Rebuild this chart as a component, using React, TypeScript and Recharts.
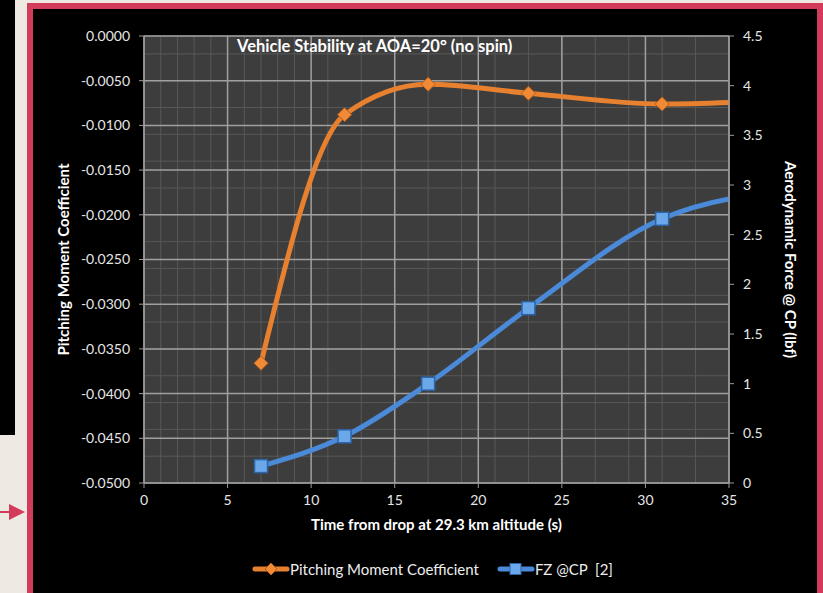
import React from 'react';
import { ComposedChart, Line, XAxis, YAxis, CartesianGrid, Legend, Label } from 'recharts';

// time after drop (s); last point lies past the visible axis, curve runs off the right edge
const times = [7, 12, 17, 23, 31, 39];
const pitchingMoment = [-0.0366, -0.0088, -0.0054, -0.0064, -0.0076, -0.0071];
const fzAtCp = [0.17, 0.47, 1.0, 1.76, 2.66, 2.95];

const xTicks = [0, 5, 10, 15, 20, 25, 30, 35];
const leftTicks = [0, -0.005, -0.01, -0.015, -0.02, -0.025, -0.03, -0.035, -0.04, -0.045, -0.05];
const rightTicks = [0, 0.5, 1, 1.5, 2, 2.5, 3, 3.5, 4, 4.5];
const xMinorTicks = Array.from({ length: 36 }, (_, i) => i);
const leftMinorTicks = Array.from({ length: 51 }, (_, i) => -i / 1000);

const data = times.map((t, i) => ({ time: t, pm: pitchingMoment[i], fz: fzAtCp[i] }));

const ORANGE = '#E8812F';
const BLUE = '#4A8AD8';
const FONT = 'Lato, "Open Sans", sans-serif';
const tickStyle = { fill: '#e6e6e6', fontSize: 14, fontFamily: FONT };
const titleStyle = { fill: '#ffffff', fontSize: 15, fontWeight: 700, fontFamily: FONT };

const Diamond = (props: any) => {
  const { cx, cy } = props;
  if (cx == null || cy == null) return null;
  const r = 7;
  return (
    <polygon
      points={`${cx},${cy - r} ${cx + r},${cy} ${cx},${cy + r} ${cx - r},${cy}`}
      fill="#F08A36"
      stroke="#B85E18"
      strokeWidth={1}
    />
  );
};

const Square = (props: any) => {
  const { cx, cy } = props;
  if (cx == null || cy == null) return null;
  const r = 6.5;
  return (
    <rect x={cx - r} y={cy - r} width={r * 2} height={r * 2} fill="#6AA8EA" stroke="#2C64A8" strokeWidth={1.5} />
  );
};

const LegendContent = () => (
  <div
    style={{
      display: 'flex',
      justifyContent: 'center',
      alignItems: 'center',
      paddingLeft: 9,
      color: '#eeeeee',
      fontSize: 15,
      fontFamily: FONT,
    }}
  >
    <svg width={38} height={14}>
      <line x1={3} y1={7} x2={35} y2={7} stroke={ORANGE} strokeWidth={5} strokeLinecap="round" />
      <polygon points="19,1 25,7 19,13 13,7" fill="#F08A36" stroke="#B85E18" />
    </svg>
    <span style={{ marginRight: 18 }}>Pitching Moment Coefficient</span>
    <svg width={38} height={14}>
      <line x1={3} y1={7} x2={35} y2={7} stroke={BLUE} strokeWidth={5} strokeLinecap="round" />
      <rect x={13} y={1.5} width={11} height={11} fill="#6AA8EA" stroke="#2C64A8" />
    </svg>
    <span>FZ @CP&nbsp;&nbsp;[2]</span>
  </div>
);

export default function App() {
  return (
    <div style={{ position: 'absolute', left: 0, top: 0, width: 823, height: 593, background: '#EEEAE3', overflow: 'hidden' }}>
      <div style={{ position: 'absolute', left: 0, top: 0, width: 15, height: 435, background: '#000' }} />
      <svg style={{ position: 'absolute', left: 0, top: 500 }} width={27} height={24}>
        <line x1={0} y1={12} x2={12} y2={12} stroke="#D23C5A" strokeWidth={2} />
        <polygon points="9,4 25,12 9,20" fill="#D23C5A" />
      </svg>
      <div
        style={{
          position: 'absolute',
          left: 27,
          top: 3,
          width: 796,
          height: 600,
          boxSizing: 'border-box',
          border: '6px solid #D23C5A',
          background: '#000',
        }}
      />
      <div style={{ position: 'absolute', left: 33, top: 9 }}>
        <ComposedChart width={790} height={584} data={data} margin={{ top: 27, right: 0, bottom: 13, left: 0 }}>
          <CartesianGrid xAxisId="minorX" yAxisId="minorY" stroke="#585858" strokeWidth={1} fill="#3d3d3d" />
          <CartesianGrid xAxisId="x" yAxisId="left" stroke="#a0a0a0" strokeWidth={1.5} />
          <XAxis
            xAxisId="minorX"
            dataKey="time"
            type="number"
            domain={[0, 35]}
            ticks={xMinorTicks}
            allowDataOverflow
            height={0}
            hide
          />
          <YAxis
            yAxisId="minorY"
            type="number"
            domain={[-0.05, 0]}
            ticks={leftMinorTicks}
            allowDataOverflow
            width={0}
            hide
          />
          <XAxis
            xAxisId="x"
            dataKey="time"
            type="number"
            domain={[0, 35]}
            ticks={xTicks}
            allowDataOverflow
            height={77}
            stroke="#9a9a9a"
            tickSize={5}
            tickMargin={7}
            tick={tickStyle}
            interval={0}
          >
            <Label value="Time from drop at 29.3 km altitude (s)" position="insideBottom" offset={30} style={titleStyle} />
          </XAxis>
          <YAxis
            yAxisId="left"
            type="number"
            domain={[-0.05, 0]}
            ticks={leftTicks}
            allowDataOverflow
            width={111}
            stroke="#9a9a9a"
            tickSize={5}
            tickMargin={9}
            tick={tickStyle}
            interval={0}
            tickFormatter={(v: number) => v.toFixed(4)}
          >
            <Label
              value="Pitching Moment Coefficient"
              angle={-90}
              position="insideLeft"
              offset={31}
              style={{ ...titleStyle, textAnchor: 'middle' }}
            />
          </YAxis>
          <YAxis
            yAxisId="right"
            orientation="right"
            type="number"
            domain={[0, 4.5]}
            ticks={rightTicks}
            allowDataOverflow
            width={94}
            stroke="#9a9a9a"
            tickSize={5}
            tickMargin={9}
            tick={tickStyle}
            interval={0}
          >
            <Label
              value="Aerodynamic Force @ CP (lbf)"
              angle={90}
              position="insideRight"
              offset={33}
              style={{ ...titleStyle, textAnchor: 'middle' }}
            />
          </YAxis>
          <Legend verticalAlign="bottom" height={20} content={<LegendContent />} />
          <Line
            xAxisId="x"
            yAxisId="left"
            dataKey="pm"
            name="Pitching Moment Coefficient"
            type="monotone"
            stroke={ORANGE}
            strokeWidth={5}
            dot={<Diamond />}
            activeDot={false}
            isAnimationActive={false}
          />
          <Line
            xAxisId="x"
            yAxisId="right"
            dataKey="fz"
            name="FZ @CP  [2]"
            type="monotone"
            stroke={BLUE}
            strokeWidth={5}
            dot={<Square />}
            activeDot={false}
            isAnimationActive={false}
          />
        </ComposedChart>
      </div>
      <div
        style={{
          position: 'absolute',
          left: 237,
          top: 36,
          color: '#ffffff',
          fontFamily: FONT,
          fontWeight: 700,
          fontSize: 16.5,
          whiteSpace: 'nowrap',
        }}
      >
        Vehicle Stability at AOA=20° (no spin)
      </div>
    </div>
  );
}
